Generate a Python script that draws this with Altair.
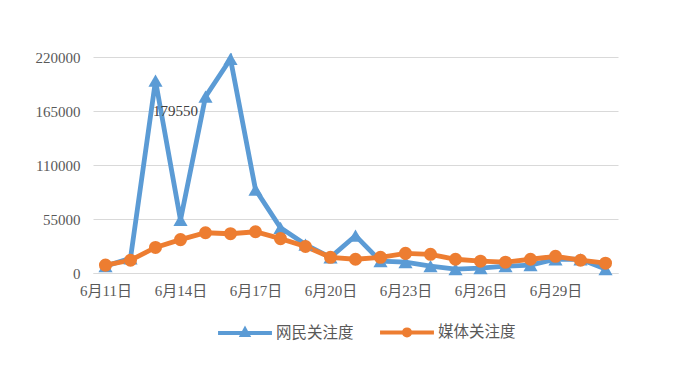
import altair as alt
import pandas as pd

dates = ["6月11日", "6月12日", "6月13日", "6月14日", "6月15日", "6月16日", "6月17日",
         "6月18日", "6月19日", "6月20日", "6月21日", "6月22日", "6月23日", "6月24日",
         "6月25日", "6月26日", "6月27日", "6月28日", "6月29日", "6月30日", "7月1日"]
netizen = [7000, 15000, 196000, 54000, 179550, 218000, 85000, 46000, 29000, 16000,
           38000, 12000, 11000, 7000, 4000, 5000, 7000, 8000, 14000, 14000, 4000]
media = [8000, 13000, 26000, 34000, 41000, 40000, 42000, 35000, 27000, 16000,
         14000, 16000, 20000, 19000, 14000, 12000, 11000, 14000, 17000, 13000, 10000]
series_names = ["网民关注度", "媒体关注度"]
series_colors = ["#5B9BD5", "#ED7D31"]
x_tick_labels = ["6月11日", "6月14日", "6月17日", "6月20日", "6月23日", "6月26日", "6月29日"]
y_ticks = [0, 55000, 110000, 165000, 220000]
label_date = "6月15日"
label_value = 179550

rows = []
for d, v in zip(dates, netizen):
    rows.append({"date": d, "value": v, "series": series_names[0]})
for d, v in zip(dates, media):
    rows.append({"date": d, "value": v, "series": series_names[1]})
df = pd.DataFrame(rows)
label_df = pd.DataFrame({"date": [label_date], "value": [label_value], "text": [str(label_value)]})

FONT = "Liberation Serif, Noto Sans CJK SC"
GRAY = "#595959"

x_enc = alt.X("date:O", sort=dates, title=None,
              scale=alt.Scale(type="point", padding=0.5),
              axis=alt.Axis(values=x_tick_labels, labelAngle=0, ticks=False,
                            domainColor="#D9D9D9", domainWidth=1.2,
                            labelPadding=10, labelFont=FONT, labelFontSize=15,
                            labelColor=GRAY, grid=False))
y_enc = alt.Y("value:Q", title=None,
              scale=alt.Scale(domain=[0, 220000], nice=False),
              axis=alt.Axis(values=y_ticks, format="d", ticks=False, domain=False,
                            gridColor="#D9D9D9", gridWidth=1.2, labelPadding=13,
                            labelFont=FONT, labelFontSize=15, labelColor=GRAY))
color_scale = alt.Scale(domain=series_names, range=series_colors)

base = alt.Chart(df)

tri_path = "M-2.45,0H2.45M0,-0.28L0.26,0.2L-0.26,0.2Z"
circ_path = "M-2.45,0H2.45M0.28,0A0.28,0.28,0,1,1,-0.28,0A0.28,0.28,0,1,1,0.28,0Z"

legend_layer = base.transform_filter("datum.value < 0").mark_point(filled=True, opacity=1).encode(
    x=x_enc, y=y_enc,
    color=alt.Color("series:N", scale=color_scale,
                    legend=alt.Legend(title=None, orient="none", direction="horizontal",
                                      legendX=139, legendY=262,
                                      symbolSize=484, symbolStrokeWidth=4,
                                      labelOffset=18, columnPadding=18,
                                      labelFont=FONT, labelFontSize=15.5, labelColor=GRAY)),
    shape=alt.Shape("series:N", scale=alt.Scale(domain=series_names, range=[tri_path, circ_path])),
)

lines = base.mark_line(strokeWidth=4.8).encode(
    x=x_enc, y=y_enc,
    color=alt.Color("series:N", scale=color_scale, legend=None),
)

pts_blue = base.transform_filter(alt.datum.series == series_names[0]).mark_point(
    filled=True, opacity=1, size=200, shape="triangle-up"
).encode(x=x_enc, y=y_enc, color=alt.Color("series:N", scale=color_scale, legend=None))

pts_orange = base.transform_filter(alt.datum.series == series_names[1]).mark_point(
    filled=True, opacity=1, size=170, shape="circle"
).encode(x=x_enc, y=y_enc, color=alt.Color("series:N", scale=color_scale, legend=None))

text = alt.Chart(label_df).mark_text(dx=-30, dy=14, font=FONT, fontSize=15, color="#404040").encode(
    x=alt.X("date:O", sort=dates), y=alt.Y("value:Q"), text="text:N"
)

chart = alt.layer(legend_layer, lines, pts_blue, pts_orange, text).properties(
    width=525, height=216,
    autosize=alt.AutoSizeParams(type="none"),
    padding={"left": 85, "top": 49, "right": 74, "bottom": 100},
    background="white",
).configure_view(stroke=None)

chart.save("out.html", embed_options={"renderer": "svg", "actions": False})
